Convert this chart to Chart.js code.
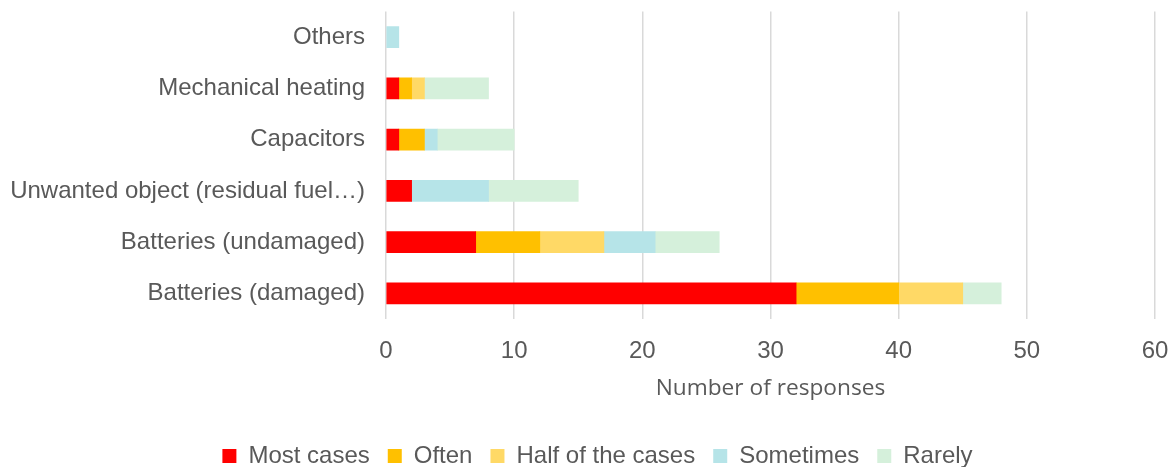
<!DOCTYPE html>
<html>
<head>
<meta charset="utf-8">
<script src="https://cdn.jsdelivr.net/npm/chart.js@4"></script>
<style>
  html, body { margin: 0; padding: 0; background: #fff; }
  #wrap { width: 1172px; height: 467px; }
</style>
</head>
<body>
<div id="wrap"><canvas id="responsesChart"></canvas></div>
<script>
// categories, top to bottom
const categories = ['Others', 'Mechanical heating', 'Capacitors', 'Unwanted object (residual fuel\u2026)', 'Batteries (undamaged)', 'Batteries (damaged)'];

// number of responses per frequency
const mostCases   = [0, 1, 1, 2, 7, 32];
const often       = [0, 1, 2, 0, 5, 8];
const halfOfCases = [0, 1, 0, 0, 5, 5];
const sometimes   = [1, 0, 1, 6, 4, 0];
const rarely      = [0, 5, 6, 7, 5, 3];

const seriesNames = ['Most cases', 'Often', 'Half of the cases', 'Sometimes', 'Rarely'];
const seriesColors = ['#FF0000', '#FFC000', '#FFD966', '#B6E4E8', '#D5F0DB'];
const xTicks = [0, 10, 20, 30, 40, 50, 60];

const textColor = '#595959';
const labelFont = { family: '"Liberation Sans", Arial, sans-serif', size: 24 };

const ctx = document.getElementById('responsesChart').getContext('2d');

// fixed legend band, nudged a little right/down like the original
const legendTweak = {
    id: 'legendTweak',
    beforeUpdate(chart) {
        const lg = chart.legend;
        if (lg && !lg._fixed) {
            const fit = lg.fit;
            lg.fit = function () { fit.call(this); this.height = 48; };
            const draw = lg.draw;
            lg.draw = function () {
                const c = this.ctx;
                c.save();
                c.translate(20, 7);
                draw.apply(this, arguments);
                c.restore();
            };
            lg._fixed = true;
        }
    }
};

const chart = new Chart(ctx, {
    type: 'bar',
    data: {
        labels: categories,
        datasets: [mostCases, often, halfOfCases, sometimes, rarely].map((values, i) => ({
            label: seriesNames[i],
            data: values.map(v => v || null),  // no sliver for empty segments
            backgroundColor: seriesColors[i],
            borderWidth: 0,
            barThickness: 21
        }))
    },
    options: {
        indexAxis: 'y',
        responsive: true,
        maintainAspectRatio: false,
        animation: false,
        layout: { padding: { top: 11.5, right: 17, left: 0, bottom: 0 } },
        scales: {
            x: {
                stacked: true,
                min: 0,
                max: 60,
                afterBuildTicks: (axis) => { axis.ticks = xTicks.map(v => ({ value: v })); },
                afterFit: (axis) => {
                    axis.height = 100;
                    axis.paddingLeft = 0;
                    axis.paddingRight = 0;
                },
                grid: { color: '#D9D9D9', lineWidth: 1.5, drawTicks: false },
                border: { display: false },
                ticks: { color: textColor, font: labelFont, padding: 18 },
                title: {
                    display: true,
                    text: 'Number of responses',
                    color: textColor,
                    font: { family: '"Open Sans", Lato, sans-serif', size: 22.7 },
                    padding: { top: 0, bottom: 17 }
                }
            },
            y: {
                stacked: true,
                afterFit: (axis) => {
                    axis.width = 386;
                    axis.paddingTop = 0;
                    axis.paddingBottom = 0;
                },
                grid: { display: false, drawTicks: false },
                border: { display: false },
                ticks: { color: textColor, font: labelFont, padding: 21 }
            }
        },
        plugins: {
            legend: {
                position: 'bottom',
                labels: {
                    color: textColor,
                    font: labelFont,
                    boxWidth: 14,
                    boxHeight: 14,
                    padding: 18
                }
            },
            tooltip: { enabled: false }
        }
    },
    plugins: [legendTweak]
});
</script>
</body>
</html>
